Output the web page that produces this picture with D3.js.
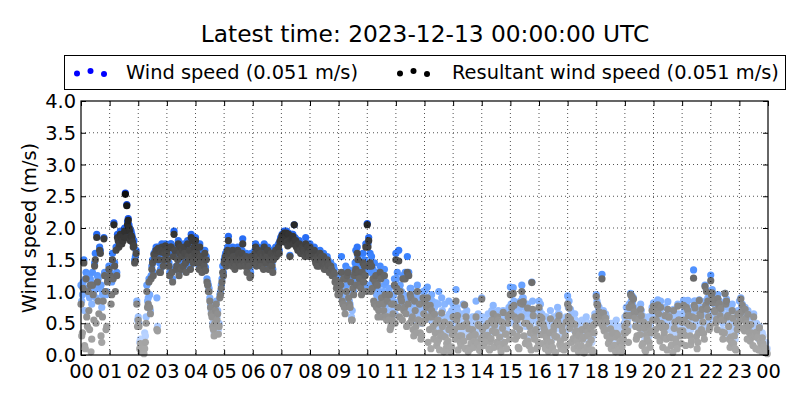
<!DOCTYPE html>
<html><head><meta charset="utf-8">
<script src="https://cdn.jsdelivr.net/npm/d3@7"></script>
<style>
html,body{margin:0;padding:0;background:#fff;}
svg{display:block;font-family:"DejaVu Sans",sans-serif;}
</style></head>
<body><svg id="chart" width="800" height="400"></svg>
<script>
// ---- data (values in m/s; two interleaved sample sets, 20 samples per hour each) ----
const titleText = "Latest time: 2023-12-13 00:00:00 UTC";
const hourLabels = ["00","01","02","03","04","05","06","07","08","09","10","11","12","13","14","15","16","17","18","19","20","21","22","23","00"];
const yTicks = [0.0,0.5,1.0,1.5,2.0,2.5,3.0,3.5,4.0];
const seriesNames = ["Wind speed (0.051 m/s)","Resultant wind speed (0.051 m/s)"];

const speedByHour = [
 [1.10,0.95,1.50,1.20,1.05,1.25,0.90,1.15,1.30,1.00,1.60,1.90,1.20,1.70,1.10,0.95,1.85,1.25,1.00,1.30],
 [1.25,1.20,1.60,2.08,1.25,1.30,1.85,1.78,1.92,1.85,1.90,2.55,2.37,2.15,2.00,1.95,1.85,1.80,1.55,0.85],
 [0.60,0.20,0.15,0.25,0.10,0.30,1.10,0.90,0.95,1.25,1.50,1.60,1.65,0.90,1.70,1.45,1.65,1.70,1.60,1.75],
 [1.65,1.72,1.30,1.75,1.20,1.95,1.70,1.60,1.80,1.65,1.40,1.70,1.75,1.50,1.65,1.60,1.70,1.90,1.85,1.75],
 [1.85,1.65,1.50,1.75,1.40,1.60,1.45,1.38,1.20,1.10,0.90,0.70,0.50,0.35,0.75,0.60,0.40,0.95,1.10,1.40],
 [1.50,1.60,1.65,1.87,1.60,1.55,1.70,1.50,1.45,1.60,1.65,1.55,1.60,1.83,1.50,1.45,1.40,1.55,1.35,1.60],
 [1.60,1.50,1.75,1.65,1.70,1.55,1.45,1.60,1.75,1.65,1.60,1.40,1.55,1.65,1.35,1.60,1.70,1.65,1.75,1.80],
 [1.85,1.90,1.95,1.88,1.80,1.92,1.57,1.85,1.90,2.05,1.83,1.78,1.75,1.70,1.65,1.72,1.68,1.85,1.70,1.65],
 [1.75,1.65,1.60,1.70,1.50,1.45,1.55,1.65,1.60,1.50,1.40,1.48,1.55,1.45,1.35,1.40,1.30,1.35,1.25,1.20],
 [1.25,1.10,1.55,1.00,0.85,1.40,1.30,0.95,0.80,0.60,1.15,1.35,1.65,1.70,1.40,1.20,1.05,1.60,1.50,1.75],
 [2.07,1.85,1.60,1.55,1.35,1.45,1.30,1.20,1.10,1.40,1.25,1.00,1.35,1.15,0.95,1.00,0.55,0.90,0.85,1.20],
 [1.60,1.30,1.65,1.10,1.00,1.25,0.90,0.80,1.55,1.30,1.05,0.70,0.60,0.95,0.75,1.10,0.65,0.55,0.50,1.00],
 [1.00,1.03,1.07,0.85,0.80,0.95,0.70,0.75,0.82,0.60,1.00,0.50,0.90,0.45,0.80,0.40,0.60,0.85,0.35,0.70],
 [0.80,0.55,1.03,0.70,0.65,0.50,0.40,0.80,0.78,0.65,0.35,0.50,0.30,0.45,0.25,0.60,0.85,0.40,0.55,0.30],
 [0.90,0.45,0.30,0.55,0.40,0.35,0.50,0.70,0.78,0.60,0.45,0.65,0.40,0.25,0.55,0.70,0.35,0.50,0.60,0.75],
 [1.07,0.95,1.06,0.75,0.60,0.50,0.40,0.85,1.10,0.90,0.65,0.45,0.80,0.30,0.55,1.15,0.70,0.40,0.60,0.35],
 [0.85,0.80,0.65,0.55,0.50,0.60,0.45,0.35,0.70,0.25,0.55,0.40,0.60,0.75,0.65,0.30,0.50,0.45,0.35,0.60],
 [0.93,0.85,0.72,0.55,0.40,0.65,0.50,0.35,0.45,0.30,0.55,0.40,0.25,0.60,0.45,0.35,0.50,0.20,0.55,0.65],
 [0.95,0.80,0.75,0.65,1.27,0.70,0.55,0.60,0.45,0.35,0.50,0.40,0.30,0.25,0.55,0.45,0.20,0.35,0.30,0.40],
 [0.60,0.75,0.55,0.80,0.97,0.93,0.90,0.65,0.45,0.70,0.50,0.80,0.35,0.60,0.25,0.40,0.55,0.30,0.45,0.75],
 [0.82,0.78,0.70,0.87,0.60,0.85,0.55,0.50,0.75,0.45,0.84,0.65,0.40,0.30,0.72,0.55,0.35,0.80,0.62,0.50],
 [0.60,0.86,0.45,0.80,0.86,0.55,0.40,0.70,1.34,0.85,0.50,0.35,0.87,0.65,0.75,0.45,1.10,1.02,0.90,0.55],
 [1.26,1.03,0.90,0.70,0.55,0.95,0.85,0.75,0.40,0.60,0.97,0.88,0.65,0.30,0.50,0.80,0.45,0.25,0.60,0.70],
 [0.85,0.90,0.80,0.62,0.75,0.55,0.70,0.45,0.60,0.40,0.65,0.35,0.50,0.30,0.45,0.25,0.35,0.20,0.15,0.10]
];
const resultantByHour = [
 [0.80,0.35,1.45,0.10,0.60,1.00,0.40,0.05,1.10,0.55,1.50,1.85,0.85,1.65,0.30,0.60,1.83,1.00,0.45,1.20],
 [1.20,0.80,1.50,2.05,1.00,1.25,1.80,1.75,1.85,1.80,1.85,2.53,2.35,2.12,1.95,1.88,1.78,1.72,1.48,0.80],
 [0.55,0.10,0.05,0.15,0.02,0.20,1.00,0.80,0.75,1.20,1.45,1.58,1.60,0.40,1.68,1.30,1.62,1.65,1.50,1.72],
 [1.60,1.68,1.25,1.70,1.15,1.90,1.65,1.40,1.75,1.60,1.35,1.65,1.70,1.45,1.60,1.55,1.65,1.85,1.80,1.70],
 [1.80,1.60,1.45,1.70,1.35,1.55,1.40,1.33,1.15,1.00,0.85,0.65,0.45,0.30,0.70,0.55,0.33,0.90,1.05,1.30],
 [1.45,1.55,1.60,1.80,1.55,1.50,1.65,1.45,1.40,1.55,1.60,1.50,1.55,1.75,1.45,1.40,1.30,1.50,1.22,1.55],
 [1.55,1.45,1.70,1.60,1.65,1.50,1.40,1.55,1.70,1.60,1.55,1.35,1.50,1.60,1.30,1.55,1.65,1.60,1.70,1.78],
 [1.83,1.88,1.92,1.85,1.78,1.90,1.55,1.82,1.87,2.05,1.80,1.72,1.70,1.65,1.60,1.68,1.62,1.75,1.65,1.60],
 [1.70,1.60,1.55,1.65,1.45,1.40,1.50,1.60,1.55,1.45,1.35,1.42,1.50,1.40,1.30,1.35,1.25,1.28,1.18,1.10],
 [1.15,1.00,1.30,0.80,0.75,1.20,1.25,0.90,0.75,0.55,1.05,1.25,1.35,1.60,1.30,1.10,0.95,1.45,1.40,1.70],
 [2.05,1.80,1.45,1.40,1.20,0.80,1.25,1.10,0.70,1.30,0.90,0.80,1.25,0.60,0.85,0.55,0.40,0.80,0.65,1.10],
 [1.50,1.00,1.48,1.00,0.85,1.20,0.75,0.65,1.30,1.25,0.95,0.55,0.40,0.85,0.45,1.00,0.55,0.35,0.30,0.90],
 [0.85,0.80,0.90,0.60,0.78,0.70,0.45,0.64,0.50,0.20,0.25,0.35,0.66,0.30,0.52,0.10,0.15,0.40,0.05,0.13],
 [0.60,0.40,0.85,0.62,0.45,0.20,0.30,0.46,0.79,0.60,0.11,0.41,0.10,0.31,0.19,0.22,0.60,0.17,0.46,0.12],
 [0.88,0.30,0.20,0.46,0.31,0.10,0.21,0.55,0.65,0.47,0.36,0.60,0.18,0.11,0.52,0.67,0.20,0.33,0.50,0.63],
 [0.95,0.75,0.97,0.60,0.45,0.30,0.10,0.82,1.00,0.84,0.50,0.20,0.74,0.15,0.35,1.14,0.62,0.25,0.40,0.12],
 [0.75,0.60,0.58,0.48,0.38,0.28,0.20,0.15,0.57,0.08,0.38,0.30,0.50,0.53,0.62,0.22,0.45,0.14,0.27,0.52],
 [0.80,0.74,0.56,0.50,0.26,0.48,0.38,0.15,0.30,0.12,0.40,0.28,0.06,0.46,0.36,0.18,0.42,0.08,0.47,0.60],
 [0.92,0.78,0.68,0.50,1.20,0.66,0.40,0.52,0.30,0.20,0.41,0.28,0.12,0.15,0.34,0.31,0.08,0.22,0.13,0.25],
 [0.45,0.62,0.38,0.75,0.95,0.91,0.88,0.58,0.25,0.68,0.43,0.72,0.15,0.52,0.08,0.32,0.45,0.20,0.38,0.70],
 [0.77,0.70,0.55,0.79,0.48,0.75,0.43,0.28,0.62,0.25,0.72,0.60,0.27,0.16,0.70,0.52,0.18,0.77,0.55,0.30],
 [0.52,0.78,0.31,0.75,0.70,0.47,0.16,0.60,1.21,0.74,0.29,0.20,0.86,0.62,0.72,0.34,1.08,1.00,0.85,0.40],
 [1.17,0.98,0.87,0.68,0.56,0.89,0.81,0.73,0.36,0.55,0.97,0.85,0.62,0.25,0.28,0.70,0.18,0.10,0.50,0.65],
 [0.62,0.88,0.78,0.55,0.72,0.50,0.64,0.35,0.48,0.28,0.60,0.30,0.36,0.27,0.43,0.18,0.27,0.13,0.09,0.05]
];
// second, interleaved sample set (half-step later in each 3-minute slot)
const speedByHourB = [
 [0.85,1.15,0.70,1.30,1.05,0.95,1.20,0.80,1.10,1.45,0.90,1.25,1.05,1.65,0.75,1.00,1.30,0.95,1.20,1.40],
 [1.30,1.15,1.25,1.45,1.70,1.90,1.75,1.95,1.80,1.85,2.00,1.90,2.10,2.05,1.85,1.90,1.75,1.50,1.65,0.55],
 [0.50,0.25,0.12,0.20,0.35,0.60,0.85,1.20,0.70,1.40,1.30,1.55,1.70,0.45,1.55,1.35,1.75,1.45,1.65,1.70],
 [1.55,1.45,1.75,1.35,1.60,1.70,1.40,1.55,1.30,1.75,1.60,1.45,1.65,1.35,1.80,1.55,1.40,1.60,1.50,1.65],
 [1.55,1.75,1.40,1.60,1.35,1.50,1.65,1.55,1.15,1.05,0.80,0.65,0.45,0.55,0.85,0.70,0.50,1.00,1.20,1.30],
 [1.55,1.45,1.70,1.50,1.65,1.45,1.60,1.40,1.55,1.70,1.50,1.45,1.65,1.55,1.45,1.60,1.50,1.45,1.30,1.55],
 [1.55,1.65,1.45,1.60,1.50,1.65,1.55,1.40,1.65,1.50,1.70,1.55,1.60,1.45,1.55,1.65,1.60,1.70,1.65,1.85],
 [1.90,1.80,1.85,1.95,1.75,1.85,1.80,1.90,1.80,1.85,1.75,1.70,1.80,1.65,1.75,1.70,1.60,1.65,1.75,1.60],
 [1.70,1.60,1.65,1.55,1.50,1.60,1.45,1.55,1.50,1.60,1.45,1.40,1.50,1.35,1.45,1.30,1.40,1.25,1.15,1.05],
 [1.05,1.20,0.90,1.30,0.75,1.10,1.35,0.85,1.25,0.70,1.00,1.45,1.20,1.55,1.30,1.15,1.40,1.25,1.35,1.10],
 [1.75,1.45,1.30,1.15,1.05,1.25,0.95,0.85,1.00,1.30,0.75,0.90,1.10,0.70,0.80,1.05,0.60,0.70,0.95,0.65],
 [1.20,1.05,0.85,1.00,0.75,0.95,1.30,0.70,0.90,0.65,1.05,0.80,0.55,0.85,0.60,0.75,0.90,0.50,0.70,0.80],
 [0.75,0.90,0.60,0.70,0.55,0.85,0.45,0.65,0.50,0.80,0.40,0.60,0.70,0.35,0.55,0.50,0.45,0.65,0.40,0.55],
 [0.60,0.45,0.75,0.40,0.55,0.35,0.65,0.50,0.45,0.70,0.30,0.55,0.40,0.60,0.35,0.50,0.45,0.65,0.30,0.55],
 [0.60,0.40,0.55,0.45,0.65,0.35,0.50,0.60,0.40,0.55,0.45,0.70,0.50,0.35,0.60,0.45,0.55,0.40,0.70,0.50],
 [0.80,0.60,0.85,0.55,0.70,0.45,0.65,0.75,0.90,0.60,0.50,0.70,0.55,0.65,0.45,0.85,0.55,0.60,0.40,0.50],
 [0.70,0.55,0.45,0.60,0.40,0.50,0.35,0.55,0.45,0.40,0.60,0.30,0.50,0.65,0.45,0.40,0.55,0.35,0.50,0.40],
 [0.75,0.60,0.50,0.65,0.40,0.55,0.45,0.35,0.50,0.40,0.45,0.30,0.55,0.40,0.50,0.35,0.45,0.30,0.50,0.60],
 [0.85,0.75,0.65,0.70,0.60,0.55,0.65,0.50,0.40,0.45,0.35,0.50,0.40,0.30,0.45,0.35,0.40,0.30,0.45,0.50],
 [0.55,0.65,0.45,0.70,0.85,0.80,0.75,0.60,0.50,0.65,0.55,0.70,0.45,0.60,0.40,0.50,0.60,0.45,0.55,0.65],
 [0.70,0.60,0.55,0.75,0.50,0.65,0.45,0.55,0.60,0.40,0.70,0.50,0.45,0.35,0.60,0.50,0.40,0.65,0.55,0.45],
 [0.55,0.70,0.40,0.65,0.75,0.50,0.45,0.60,0.85,0.70,0.45,0.55,0.75,0.60,0.65,0.50,0.85,0.80,0.70,0.60],
 [1.00,0.90,0.80,0.65,0.60,0.85,0.75,0.70,0.50,0.55,0.85,0.75,0.60,0.40,0.45,0.70,0.50,0.35,0.55,0.60],
 [0.70,0.75,0.60,0.55,0.65,0.45,0.55,0.40,0.50,0.35,0.45,0.30,0.40,0.25,0.35,0.20,0.30,0.15,0.20,0.10]
];
const resultantByHourB = [
 [0.30,1.05,0.15,1.20,0.45,0.70,1.10,0.25,0.95,1.40,0.50,1.15,0.65,1.60,0.20,0.85,1.25,0.40,1.15,1.35],
 [1.25,0.95,1.20,1.40,1.65,1.85,1.70,1.90,1.75,1.80,1.95,1.85,2.05,2.00,1.80,1.85,1.70,1.45,1.60,0.45],
 [0.45,0.18,0.08,0.12,0.10,0.50,0.75,1.15,0.65,1.35,1.25,1.50,1.65,0.38,1.50,1.30,1.70,1.40,1.60,1.65],
 [1.50,1.40,1.70,1.30,1.55,1.65,1.35,1.50,1.25,1.70,1.55,1.40,1.60,1.30,1.75,1.50,1.35,1.55,1.45,1.60],
 [1.50,1.70,1.35,1.55,1.30,1.45,1.60,1.50,1.10,1.00,0.75,0.60,0.40,0.50,0.80,0.65,0.45,0.95,1.15,1.25],
 [1.50,1.40,1.65,1.45,1.60,1.40,1.55,1.35,1.50,1.65,1.45,1.40,1.60,1.50,1.40,1.55,1.45,1.40,1.25,1.50],
 [1.50,1.60,1.40,1.55,1.45,1.60,1.50,1.35,1.60,1.45,1.65,1.50,1.55,1.40,1.50,1.60,1.55,1.65,1.60,1.80],
 [1.88,1.78,1.82,1.92,1.72,1.80,1.75,1.85,1.75,1.80,1.70,1.65,1.75,1.60,1.70,1.65,1.55,1.60,1.70,1.55],
 [1.65,1.55,1.60,1.50,1.45,1.55,1.40,1.50,1.45,1.55,1.40,1.35,1.45,1.30,1.40,1.25,1.30,1.15,1.05,0.95],
 [0.95,1.10,0.85,1.20,0.65,1.00,1.30,0.80,1.15,0.55,0.95,1.30,1.10,1.50,1.20,1.05,1.30,1.15,1.25,1.00],
 [1.70,1.40,1.00,1.05,0.85,1.15,0.75,0.60,0.80,1.20,0.60,0.70,0.95,0.55,0.60,0.95,0.45,0.55,0.80,0.50],
 [1.05,0.75,0.60,0.90,0.55,0.70,1.20,0.45,0.80,0.50,0.90,0.60,0.30,0.70,0.35,0.55,0.80,0.25,0.50,0.65],
 [0.55,0.75,0.20,0.40,0.10,0.60,0.25,0.35,0.15,0.55,0.08,0.30,0.45,0.05,0.28,0.18,0.22,0.48,0.12,0.32],
 [0.35,0.25,0.55,0.08,0.30,0.15,0.45,0.22,0.10,0.50,0.05,0.28,0.18,0.40,0.12,0.32,0.20,0.48,0.07,0.26],
 [0.40,0.15,0.30,0.22,0.50,0.08,0.26,0.38,0.12,0.35,0.20,0.55,0.28,0.05,0.42,0.18,0.33,0.10,0.60,0.25],
 [0.65,0.35,0.78,0.25,0.55,0.12,0.40,0.60,0.80,0.30,0.18,0.50,0.22,0.45,0.08,0.72,0.30,0.38,0.10,0.20],
 [0.50,0.32,0.18,0.42,0.10,0.26,0.06,0.35,0.20,0.12,0.45,0.04,0.28,0.48,0.16,0.10,0.38,0.08,0.30,0.15],
 [0.60,0.42,0.20,0.50,0.10,0.35,0.22,0.05,0.32,0.15,0.25,0.03,0.40,0.12,0.30,0.08,0.24,0.04,0.35,0.50],
 [0.80,0.60,0.55,0.62,0.45,0.38,0.58,0.30,0.18,0.26,0.10,0.35,0.15,0.05,0.28,0.12,0.20,0.04,0.22,0.35],
 [0.35,0.50,0.20,0.62,0.80,0.75,0.68,0.45,0.30,0.55,0.32,0.62,0.18,0.42,0.06,0.25,0.48,0.12,0.35,0.55],
 [0.55,0.40,0.30,0.65,0.22,0.50,0.12,0.35,0.45,0.08,0.60,0.28,0.15,0.04,0.42,0.25,0.10,0.55,0.38,0.18],
 [0.38,0.55,0.15,0.50,0.62,0.30,0.22,0.45,0.78,0.58,0.10,0.35,0.65,0.40,0.52,0.25,0.78,0.72,0.60,0.45],
 [0.95,0.82,0.70,0.50,0.40,0.78,0.62,0.55,0.25,0.35,0.80,0.60,0.45,0.12,0.20,0.58,0.30,0.08,0.40,0.48],
 [0.55,0.68,0.42,0.38,0.58,0.25,0.45,0.22,0.35,0.15,0.32,0.10,0.28,0.08,0.22,0.06,0.18,0.04,0.10,0.02]
];

// ---- layout ----
const M = {left:81, right:768, top:101, bottom:355};
const svg = d3.select("#chart");
const FONT = 19.4;

const x = d3.scaleLinear().domain([0,24]).range([M.left, M.right]);
const y = d3.scaleLinear().domain([0,4]).range([M.bottom, M.top]);

const blueColor = d3.scaleLinear()
  .domain([0,0.5,1.0,1.5,2.0,2.5])
  .range(["#cfe0ff","#a9c9ff","#74a9ff","#3d85ff","#1f62f0","#0a3ed8"]).clamp(true);
const grayColor = d3.scaleLinear()
  .domain([0,0.5,1.0,1.5,2.0,2.5])
  .range(["#ababab","#9a9a9a","#787878","#545454","#2c2c2c","#0e0e0e"]).clamp(true);

function flatten(byHour, offset){
  const out=[];
  byHour.forEach((arr,h)=>arr.forEach((v,i)=>out.push({t:h+(i+offset)/arr.length, v})));
  return out;
}
const speedPts = flatten(speedByHour,0).concat(flatten(speedByHourB,0.5)).sort((a,b)=>a.t-b.t);
const resPts = flatten(resultantByHour,0).concat(flatten(resultantByHourB,0.5)).sort((a,b)=>a.t-b.t);

const R = 3.6;
const plot = svg.append("g");
plot.selectAll("circle.sp").data(speedPts).join("circle")
  .attr("class","sp").attr("cx",d=>x(d.t)).attr("cy",d=>y(d.v)).attr("r",R)
  .attr("fill",d=>blueColor(d.v));
plot.selectAll("circle.rs").data(resPts).join("circle")
  .attr("class","rs").attr("cx",d=>x(d.t)).attr("cy",d=>y(d.v)).attr("r",R)
  .attr("fill",d=>grayColor(d.v));

// ---- grid (drawn over the points, as in the reference) ----
const grid = svg.append("g").attr("stroke","#000").attr("stroke-width",0.8)
  .attr("stroke-dasharray","1,3").attr("opacity",0.85);
d3.range(1,24).forEach(h=>{
  grid.append("line").attr("x1",x(h)).attr("x2",x(h)).attr("y1",M.top).attr("y2",M.bottom);
});
yTicks.slice(1,-1).forEach(v=>{
  grid.append("line").attr("x1",M.left).attr("x2",M.right).attr("y1",y(v)).attr("y2",y(v));
});

// ---- axes ----
const tickLen = 5;
const xAxisB = d3.axisBottom(x).tickValues(d3.range(0,25)).tickFormat((d,i)=>hourLabels[i])
  .tickSizeInner(-tickLen).tickSizeOuter(0);
const gxb = svg.append("g").attr("transform",`translate(0,${M.bottom})`).call(xAxisB);
const gxt = svg.append("g").attr("transform",`translate(0,${M.top})`)
  .call(d3.axisTop(x).tickValues(d3.range(0,25)).tickFormat("").tickSizeInner(-tickLen).tickSizeOuter(0));
const yAxisL = d3.axisLeft(y).tickValues(yTicks).tickFormat(d3.format(".1f"))
  .tickSizeInner(-tickLen).tickSizeOuter(0);
const gyl = svg.append("g").attr("transform",`translate(${M.left},0)`).call(yAxisL);
const gyr = svg.append("g").attr("transform",`translate(${M.right},0)`)
  .call(d3.axisRight(y).tickValues(yTicks).tickFormat("").tickSizeInner(-tickLen).tickSizeOuter(0));
[gxb,gxt,gyl,gyr].forEach(g=>{
  g.select(".domain").remove();
  g.selectAll("line").attr("stroke","#000").attr("stroke-width",1);
  g.selectAll("text").attr("font-family","DejaVu Sans").attr("font-size",FONT).attr("fill","#000");
});
gxb.selectAll("text").attr("y",8).attr("dy","0.78em");
gyl.selectAll("text").attr("x",-5).attr("dy","0.34em");

svg.append("rect").attr("x",M.left).attr("y",M.top)
  .attr("width",M.right-M.left).attr("height",M.bottom-M.top)
  .attr("fill","none").attr("stroke","#000").attr("stroke-width",1.2);

// ---- labels ----
svg.append("text").attr("x",425).attr("y",42).attr("text-anchor","middle")
  .attr("font-size",23.3).text(titleText);
svg.append("text").attr("transform",`translate(36,${(M.top+M.bottom)/2}) rotate(-90)`)
  .attr("text-anchor","middle").attr("font-size",FONT).text("Wind speed (m/s)");

// ---- legend ----
const leg = svg.append("g");
leg.append("rect").attr("x",64.5).attr("y",55.5).attr("width",721).attr("height",34)
  .attr("fill","#fff").attr("stroke","#000").attr("stroke-width",1);
const legDotX = [0,13.5,27];
const legDotY = [73.5,71,74];
const legendItems = [
  {x0:77, color:"#0000ff", textX:126, name:seriesNames[0]},
  {x0:400, color:"#000000", textX:452, name:seriesNames[1]}
];
legendItems.forEach(it=>{
  legDotX.forEach((dx,i)=>{
    leg.append("circle").attr("cx",it.x0+dx).attr("cy",legDotY[i]).attr("r",3).attr("fill",it.color);
  });
  leg.append("text").attr("x",it.textX).attr("y",79).attr("font-size",FONT).text(it.name);
});
</script></body></html>
